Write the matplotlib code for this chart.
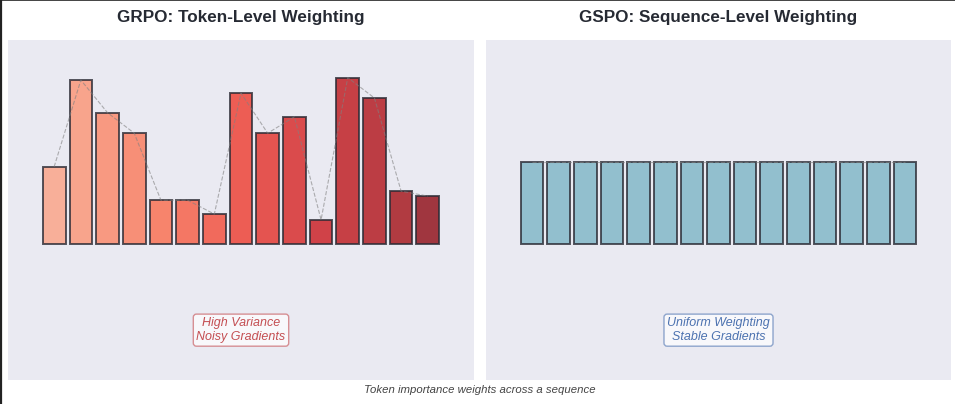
import numpy as np
import matplotlib
matplotlib.use("Agg")
import matplotlib.pyplot as plt
from matplotlib.lines import Line2D
from matplotlib.colors import to_rgba

plt.rcParams['font.family'] = ['Liberation Sans', 'DejaVu Sans']

# Data
tokens = list(range(15))
grpo_weights = [0.94, 2.00, 1.60, 1.35, 0.53, 0.53, 0.36, 1.84, 1.35, 1.55, 0.29, 2.03, 1.78, 0.64, 0.58]
gspo_weights = [1.0] * 15
titles = ["GRPO: Token-Level Weighting", "GSPO: Sequence-Level Weighting"]
labels = ["High Variance\nNoisy Gradients", "Uniform Weighting\nStable Gradients"]
footer = "Token importance weights across a sequence"

W, H = 955, 404
fig = plt.figure(figsize=(W / 100, H / 100), dpi=100)
fig.patch.set_facecolor('white')

bg = '#EAEAF2'
ax1 = fig.add_axes([8 / W, (H - 380) / H, 466 / W, 340 / H])
ax2 = fig.add_axes([486 / W, (H - 380) / H, 465 / W, 340 / H])

red_colors = plt.cm.Reds(np.linspace(0.33, 0.92, len(tokens)))
edge = '#2b2b35'

for ax, vals, colors, title, lab, tcol in [
    (ax1, grpo_weights, red_colors, titles[0], labels[0], '#C44E52'),
    (ax2, gspo_weights, ['#7cb5c5'] * 15, titles[1], labels[1], '#4C72B0'),
]:
    ax.set_facecolor(bg)
    ax.bar(tokens, vals, width=0.85, color=colors, alpha=0.8,
           edgecolor=edge, linewidth=1.4)
    ax.plot(tokens, vals, linestyle='--', color='gray', alpha=0.6, linewidth=0.8)
    ax.set_xlim(-1.73, 15.73)
    ax.set_ylim(-1.67, 2.49)
    ax.set_xticks([])
    ax.set_yticks([])
    for s in ax.spines.values():
        s.set_visible(False)
    ax.set_title(title, fontsize=12.3, fontweight='bold', color='#262a33', pad=13)
    ax.text(7, -1.06, lab, ha='center', va='center', fontsize=9,
            style='italic', color=tcol,
            bbox=dict(boxstyle='round,pad=0.25', facecolor=(1, 1, 1, 0.7),
                      edgecolor=to_rgba(tcol, 0.6)))

fig.text(480 / W, 1 - 390 / H, footer, ha='center', va='center',
         fontsize=8.2, style='italic', color='#444444')

# thin border on left and top edges
fig.add_artist(Line2D([0.001, 0.001], [0, 1], transform=fig.transFigure, color='#222222', linewidth=1.6))
fig.add_artist(Line2D([0, 1], [0.999, 0.999], transform=fig.transFigure, color='#222222', linewidth=1.2))

fig.savefig('out.png', dpi=100)
